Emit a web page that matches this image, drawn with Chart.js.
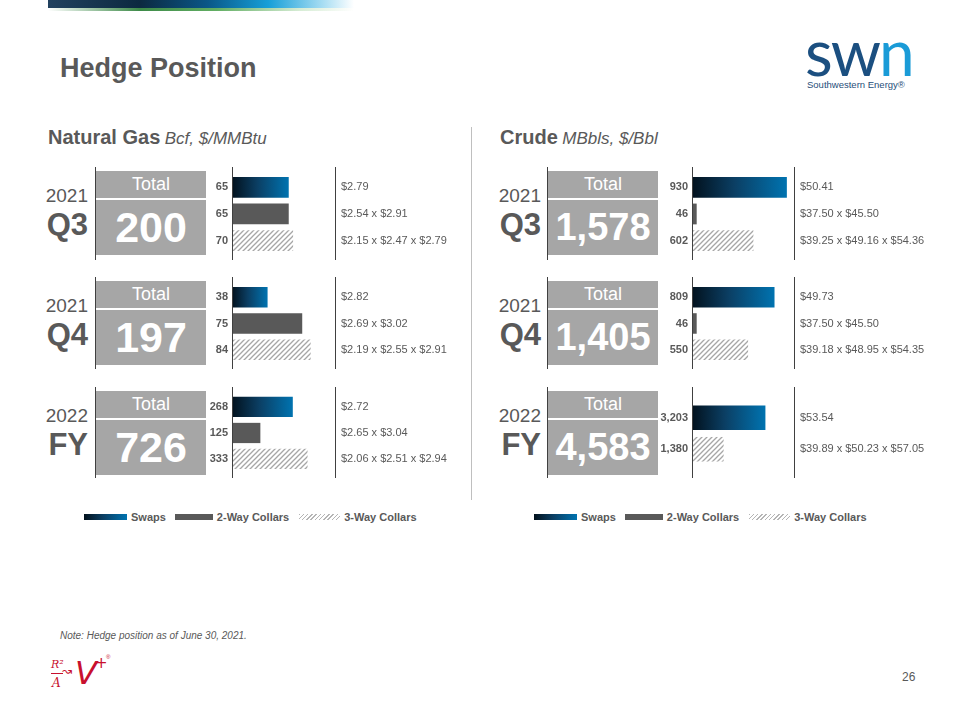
<!DOCTYPE html>
<html>
<head>
<meta charset="utf-8">
<title>Hedge Position</title>
<script src="https://cdn.jsdelivr.net/npm/chart.js@4.4.1/dist/chart.umd.min.js"></script>
<style>
    body { margin: 0; background: #fff; }
    #slide {
        position: relative; width: 960px; height: 720px; overflow: hidden; background: #fff;
        font-family: "Liberation Sans", Arial, sans-serif; color: #595959;
    }
    .abs { position: absolute; white-space: nowrap; }
    .box { position: absolute; background: #a6a6a6; color: #fff; text-align: center; }
    .box .head { height: 27px; line-height: 27px; font-size: 18px; border-bottom: 2px solid #fff; }
    .box .num { height: 55px; line-height: 55px; font-weight: bold; }
    .legend { position: absolute; top: 510px; height: 14px; display: flex; align-items: center;
              font-size: 11px; font-weight: bold; color: #595959; }
    .legend .sw { height: 6px; margin-right: 4px; }
</style>
</head>
<body>
<div id="slide">
    <!-- top strip -->
    <div class="abs" style="left:48px;top:0;width:306px;height:8px;
        background:linear-gradient(to right,#22415f 0%,#0c2940 30%,#0a5787 52%,#169fd8 72%,#a9def3 90%,rgba(255,255,255,0) 100%);"></div>
    <div class="abs" style="left:48px;top:8px;width:306px;height:3px;
        background:linear-gradient(to right,rgba(255,255,255,0) 0%,#3d8a48 30%,#62ae63 55%,#d6ecd4 82%,rgba(255,255,255,0) 100%);"></div>

    <div class="abs" style="left:60px;top:52px;font-size:27px;line-height:32px;font-weight:bold;">Hedge Position</div>

    <!-- logo -->
    <div class="abs" style="left:805px;top:27px;font-family:Lato,'Open Sans',sans-serif;font-weight:400;font-size:64px;line-height:50px;letter-spacing:-2px;">
        <span style="color:#1b4f80">sw</span><span style="color:#1a9bd7">n</span>
    </div>
    <div class="abs" style="left:807px;top:79px;font-size:9.5px;line-height:12px;color:#1f4e79;">Southwestern Energy®</div>

    <div class="abs" style="left:48px;top:125px;line-height:24px;">
        <span style="font-size:20px;font-weight:bold;">Natural Gas</span>
        <span style="font-size:17px;font-style:italic;">Bcf, $/MMBtu</span>
    </div>
    <div class="abs" style="left:500px;top:125px;line-height:24px;">
        <span style="font-size:20px;font-weight:bold;">Crude</span>
        <span style="font-size:17px;font-style:italic;">MBbls, $/Bbl</span>
    </div>
    <div class="abs" style="left:471px;top:127px;width:1px;height:373px;background:#bfbfbf;"></div>

    <div class="abs" style="left:60px;top:629px;font-size:10px;line-height:14px;font-style:italic;">Note: Hedge position as of June 30, 2021.</div>
    <div class="abs" style="left:902px;top:669px;font-size:12px;line-height:16px;">26</div>

    <!-- R/A -> V+ mark -->
    <div class="abs" style="left:51px;top:659px;font-family:'DejaVu Serif',serif;font-style:italic;font-size:11px;line-height:12px;color:#c8102e;">R²</div>
    <div class="abs" style="left:51px;top:673px;width:12px;height:1px;background:#c8102e;"></div>
    <div class="abs" style="left:52px;top:676px;font-family:'DejaVu Serif',serif;font-style:italic;font-size:12px;line-height:14px;color:#c8102e;">A</div>
    <div class="abs" style="left:62px;top:664px;font-family:'DejaVu Sans',sans-serif;font-size:12px;line-height:14px;color:#c8102e;">↝</div>
    <div class="abs" style="left:75px;top:655px;font-family:'DejaVu Sans',sans-serif;font-style:italic;font-size:32px;line-height:36px;color:#c8102e;">V</div>
    <div class="abs" style="left:95px;top:655px;font-family:'DejaVu Sans',sans-serif;font-size:15px;line-height:16px;color:#c8102e;">+</div>
    <div class="abs" style="left:106px;top:653px;font-size:6px;line-height:8px;color:#c8102e;">®</div>
</div>

<script>
const periodYears = ["2021", "2021", "2022"];
const periodNames = ["Q3", "Q4", "FY"];
const legendLabels = ["Swaps", "2-Way Collars", "3-Way Collars"];

const gasTypes = [
    ["Swaps", "2-Way Collars", "3-Way Collars"],
    ["Swaps", "2-Way Collars", "3-Way Collars"],
    ["Swaps", "2-Way Collars", "3-Way Collars"]
];
const gasVolumes = [[65, 65, 70], [38, 75, 84], [268, 125, 333]];
const gasPrices = [
    ["$2.79", "$2.54 x $2.91", "$2.15 x $2.47 x $2.79"],
    ["$2.82", "$2.69 x $3.02", "$2.19 x $2.55 x $2.91"],
    ["$2.72", "$2.65 x $3.04", "$2.06 x $2.51 x $2.94"]
];

const crudeTypes = [
    ["Swaps", "2-Way Collars", "3-Way Collars"],
    ["Swaps", "2-Way Collars", "3-Way Collars"],
    ["Swaps", "3-Way Collars"]
];
const crudeVolumes = [[930, 46, 602], [809, 46, 550], [3203, 1380]];
const crudePrices = [
    ["$50.41", "$37.50 x $45.50", "$39.25 x $49.16 x $54.36"],
    ["$49.73", "$37.50 x $45.50", "$39.18 x $48.95 x $54.35"],
    ["$53.54", "$39.89 x $50.23 x $57.05"]
];

// bar axis ranges (each block has its own scale in the original)
const gasAxisMax = [118, 110, 454];
const crudeAxisMax = [1000, 1000, 4450];

// layout
const rowTop = [167, 277, 387];
const rowHeight = [93, 92, 91];
const sides = [
    { types: gasTypes, volumes: gasVolumes, prices: gasPrices, axisMax: gasAxisMax,
      labelRight: 88, boxLeft: 95, axisX: 232, plotWidth: 103, priceWidth: 125, numSize: 43, legendLeft: 84 },
    { types: crudeTypes, volumes: crudeVolumes, prices: crudePrices, axisMax: crudeAxisMax,
      labelRight: 541, boxLeft: 547, axisX: 692, plotWidth: 102, priceWidth: 150, numSize: 38, legendLeft: 534 }
];

const FONT = "'Liberation Sans', Arial, sans-serif";
Chart.defaults.font.family = FONT;
const slide = document.getElementById("slide");

function makeHatch() {
    const c = document.createElement("canvas");
    c.width = 5; c.height = 5;
    const g = c.getContext("2d");
    g.fillStyle = "#fff";
    g.fillRect(0, 0, 5, 5);
    g.strokeStyle = "#a6a6a6";
    g.lineWidth = 1.3;
    g.beginPath();
    g.moveTo(0, 5); g.lineTo(5, 0);
    g.moveTo(-1, 1); g.lineTo(1, -1);
    g.moveTo(4, 6); g.lineTo(6, 4);
    g.stroke();
    return c;
}
const hatchTile = makeHatch();

function fillFor(type, context) {
    const chart = context.chart;
    if (type === "2-Way Collars") return "#595959";
    if (type === "3-Way Collars") return chart.ctx.createPattern(hatchTile, "repeat");
    const xs = chart.scales.x;
    if (!xs || context.raw === undefined) return "#0a3d62";
    const x0 = xs.getPixelForValue(0);
    const x1 = xs.getPixelForValue(context.raw);
    if (!Number.isFinite(x0) || !Number.isFinite(x1) || x1 <= x0) return "#0a3d62";
    const grad = chart.ctx.createLinearGradient(x0, 0, x1, 0);
    grad.addColorStop(0, "#02111d");
    grad.addColorStop(0.45, "#0b3f64");
    grad.addColorStop(1, "#0073b0");
    return grad;
}

// vertical lines at the bar baseline and in front of the price column
const axisLines = {
    id: "axisLines",
    afterDraw(chart) {
        const { ctx, chartArea } = chart;
        ctx.save();
        ctx.strokeStyle = "#404040";
        ctx.lineWidth = 1;
        [chartArea.left, chartArea.right].forEach(x => {
            const px = Math.round(x) + 0.5;
            ctx.beginPath();
            ctx.moveTo(px, 0);
            ctx.lineTo(px, chart.height);
            ctx.stroke();
        });
        ctx.restore();
    }
};

function addDiv(style, html) {
    const d = document.createElement("div");
    d.className = "abs";
    d.style.cssText = style;
    if (html !== undefined) d.innerHTML = html;
    slide.appendChild(d);
    return d;
}

function buildChart(side, i) {
    const types = side.types[i];
    const volumes = side.volumes[i];
    const prices = side.prices[i];
    const n = volumes.length;
    const step = n === 2 ? 31.5 : 27;
    const padTop = n === 2 ? 15 : 7;
    const padBottom = rowHeight[i] - padTop - n * step;

    const canvas = document.createElement("canvas");
    const width = 40 + side.plotWidth + side.priceWidth;
    canvas.width = width;
    canvas.height = rowHeight[i];
    canvas.style.cssText = `position:absolute;left:${side.axisX - 40}px;top:${rowTop[i]}px;width:${width}px;height:${rowHeight[i]}px;`;
    slide.appendChild(canvas);

    // tiny lineHeight keeps the tick labels from adding extra top/bottom padding
    const chart = new Chart(canvas, {
        type: "bar",
        data: {
            labels: types,
            datasets: [{
                data: volumes,
                backgroundColor: ctx => fillFor(types[ctx.dataIndex], ctx),
                borderWidth: 0,
                barPercentage: 0.78,
                categoryPercentage: 1
            }]
        },
        options: {
            indexAxis: "y",
            responsive: false,
            animation: false,
            layout: { padding: { top: padTop, bottom: padBottom, left: 0, right: 0 } },
            plugins: { legend: { display: false }, tooltip: { enabled: false } },
            events: [],
            scales: {
                x: { type: "linear", min: 0, max: side.axisMax[i], display: false },
                y: {
                    type: "category", position: "left", offset: true,
                    grid: { display: false, drawTicks: false }, border: { display: false },
                    ticks: {
                        autoSkip: false, padding: 4, color: "#595959",
                        font: { size: 11, weight: "bold", lineHeight: 0.01 },
                        callback: (v, idx) => volumes[idx].toLocaleString("en-US")
                    },
                    afterFit: s => { s.width = 40; }
                },
                y2: {
                    type: "category", position: "right", offset: true, labels: prices,
                    grid: { display: false, drawTicks: false }, border: { display: false },
                    ticks: { autoSkip: false, padding: 6, color: "#595959", font: { size: 11, lineHeight: 0.01 } },
                    afterFit: s => { s.width = side.priceWidth; }
                }
            }
        },
        plugins: [axisLines]
    });
    // second pass so the swap gradients see the finished scale
    chart.update("none");
}

sides.forEach(side => {
    for (let i = 0; i < periodNames.length; i++) {
        const boxTop = rowTop[i] + 4;
        const total = side.volumes[i].reduce((a, b) => a + b, 0);

        addDiv(`left:${side.labelRight - 60}px;width:60px;text-align:right;top:${boxTop + 13}px;height:24px;line-height:24px;font-size:19px;`, periodYears[i]);
        addDiv(`left:${side.labelRight - 60}px;width:60px;text-align:right;top:${boxTop + 37}px;height:34px;line-height:34px;font-size:31px;font-weight:bold;`, periodNames[i]);

        addDiv(`left:${side.boxLeft}px;top:${rowTop[i]}px;width:1px;height:${rowHeight[i]}px;background:#404040;`);
        const box = document.createElement("div");
        box.className = "box";
        box.style.cssText = `left:${side.boxLeft + 1}px;top:${boxTop}px;width:110px;height:84px;`;
        box.innerHTML = `<div class="head">Total</div><div class="num" style="font-size:${side.numSize}px">${total.toLocaleString("en-US")}</div>`;
        slide.appendChild(box);

        buildChart(side, i);
    }

    const legend = document.createElement("div");
    legend.className = "legend";
    legend.style.left = side.legendLeft + "px";
    const swatchStyles = [
        "width:43px;background:linear-gradient(to right,#02111d,#0b3f64 45%,#0073b0);",
        "width:38px;margin-left:9px;background:#595959;",
        "width:41px;margin-left:10px;background:repeating-linear-gradient(135deg,#b5b5b5 0 1px,#fff 1px 3px);"
    ];
    legendLabels.forEach((label, k) => {
        legend.innerHTML += `<span class="sw" style="${swatchStyles[k]}"></span><span>${label}</span>`;
    });
    slide.appendChild(legend);
});
</script>
</body>
</html>
